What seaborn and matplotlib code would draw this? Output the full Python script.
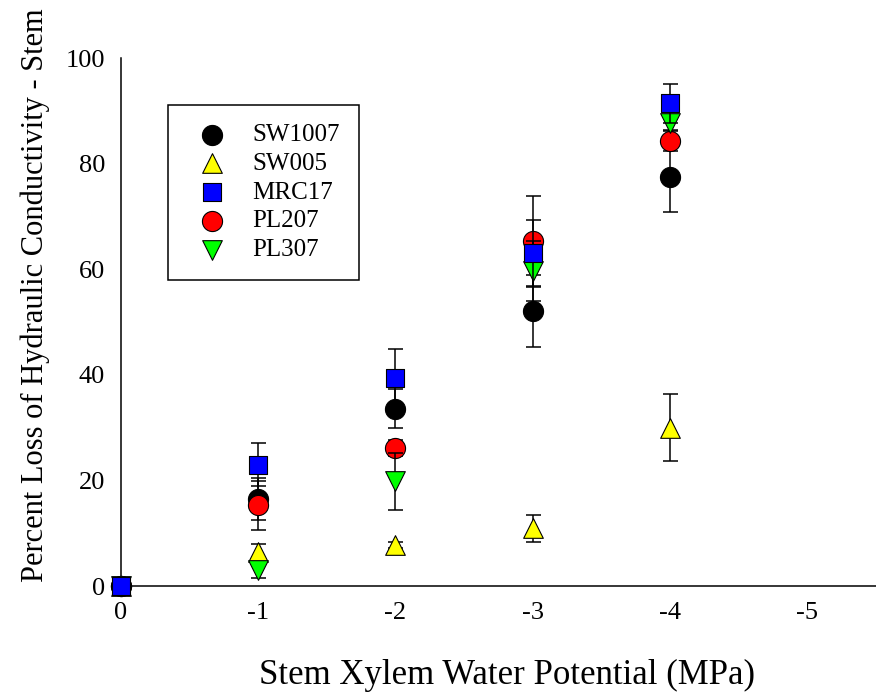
import matplotlib
matplotlib.use("Agg")
import matplotlib.pyplot as plt
import seaborn as sns
import pandas as pd

# Stem xylem water potential (MPa)
potential = [0, -1, -2, -3, -4]

series_names = ["SW1007", "SW005", "MRC17", "PL207", "PL307"]

# Percent loss of hydraulic conductivity (mean) and standard error
sw1007_mean = [0, 16.5, 33.6, 52.1, 77.5]
sw1007_se = [0, 4.0, 3.7, 6.8, 6.6]
sw005_mean = [0, 6.5, 7.8, 10.9, 30.0]
sw005_se = [0, 1.5, 0.6, 2.5, 6.4]
mrc17_mean = [0, 23.0, 39.3, 63.0, 91.4]
mrc17_se = [0, 4.0, 5.5, 6.4, 3.7]
pl207_mean = [0, 15.3, 26.1, 65.4, 84.3]
pl207_se = [0, 4.6, 1.5, 8.5, 2.0]
pl307_mean = [0, 3.0, 19.8, 59.6, 87.6]
pl307_se = [0, 1.4, 5.4, 5.7, 1.5]

means = [sw1007_mean, sw005_mean, mrc17_mean, pl207_mean, pl307_mean]
errors = [sw1007_se, sw005_se, mrc17_se, pl207_se, pl307_se]

colors = ["black", "#ffff00", "#0000ff", "#ff0000", "#00ff00"]
markers = ["o", "^", "s", "o", "v"]
sizes = [210, 200, 150, 210, 200]
# stacking order of the series (MRC17 ends up on top)
layer = [0, 1, 4, 2, 3]

rows = []
for name, m, e in zip(series_names, means, errors):
    for x, y, s in zip(potential, m, e):
        rows.append({"series": name, "potential": x, "plc": y, "se": s})
df = pd.DataFrame(rows)

sns.set_style("white")
plt.rcParams["font.family"] = ["Liberation Serif", "DejaVu Serif"]
plt.rcParams["axes.unicode_minus"] = False
plt.rcParams["text.color"] = "black"
plt.rcParams["axes.labelcolor"] = "black"

fig = plt.figure(figsize=(8.76, 6.93), dpi=100)
ax = fig.add_axes([0.138, 0.1544, 0.862, 0.7619])

for i, name in enumerate(series_names):
    sub = df[df["series"] == name]
    z = 3 + 2 * layer[i]
    ax.errorbar(sub["potential"], sub["plc"], yerr=sub["se"], fmt="none",
                ecolor="black", elinewidth=1.1, capsize=5.4, capthick=1.1,
                zorder=z, clip_on=False)
    sns.scatterplot(data=sub, x="potential", y="plc", ax=ax,
                    marker=markers[i], color=colors[i], s=sizes[i],
                    edgecolor="black", linewidth=0.8, label=name,
                    zorder=z + 1, clip_on=False)

ax.set_xlim(0, -5.5)
ax.set_ylim(0, 100)
ax.set_xticks([0, -1, -2, -3, -4, -5])
ax.set_xticklabels(["0", "-1", "-2", "-3", "-4", "-5"])
ax.set_yticks([0, 20, 40, 60, 80, 100])

for side in ["top", "right"]:
    ax.spines[side].set_visible(False)
for side in ["left", "bottom"]:
    ax.spines[side].set_linewidth(1.1)
    ax.spines[side].set_color("black")

ax.tick_params(axis="both", direction="out", length=5.5, width=1.1,
               colors="black", labelsize=19, pad=6)

ax.set_xlabel("Stem Xylem Water Potential (MPa)", fontsize=25, color="black")
ax.set_ylabel("Percent Loss of Hydraulic Conductivity - Stem", fontsize=22,
              color="black")
ax.xaxis.set_label_coords(0.511, -0.138)
ax.yaxis.set_label_coords(-0.094, 0.551)

leg = ax.legend(loc="upper left", bbox_to_anchor=(0.0623, 0.911),
                borderaxespad=0, fontsize=18, frameon=True, fancybox=False,
                framealpha=1, edgecolor="black", borderpad=0.75,
                handlelength=2.0, handletextpad=0.63, labelspacing=0.25)
leg.get_frame().set_linewidth(1.1)
for t in leg.get_texts():
    t.set_color("black")

fig.savefig("out.png", dpi=100)
